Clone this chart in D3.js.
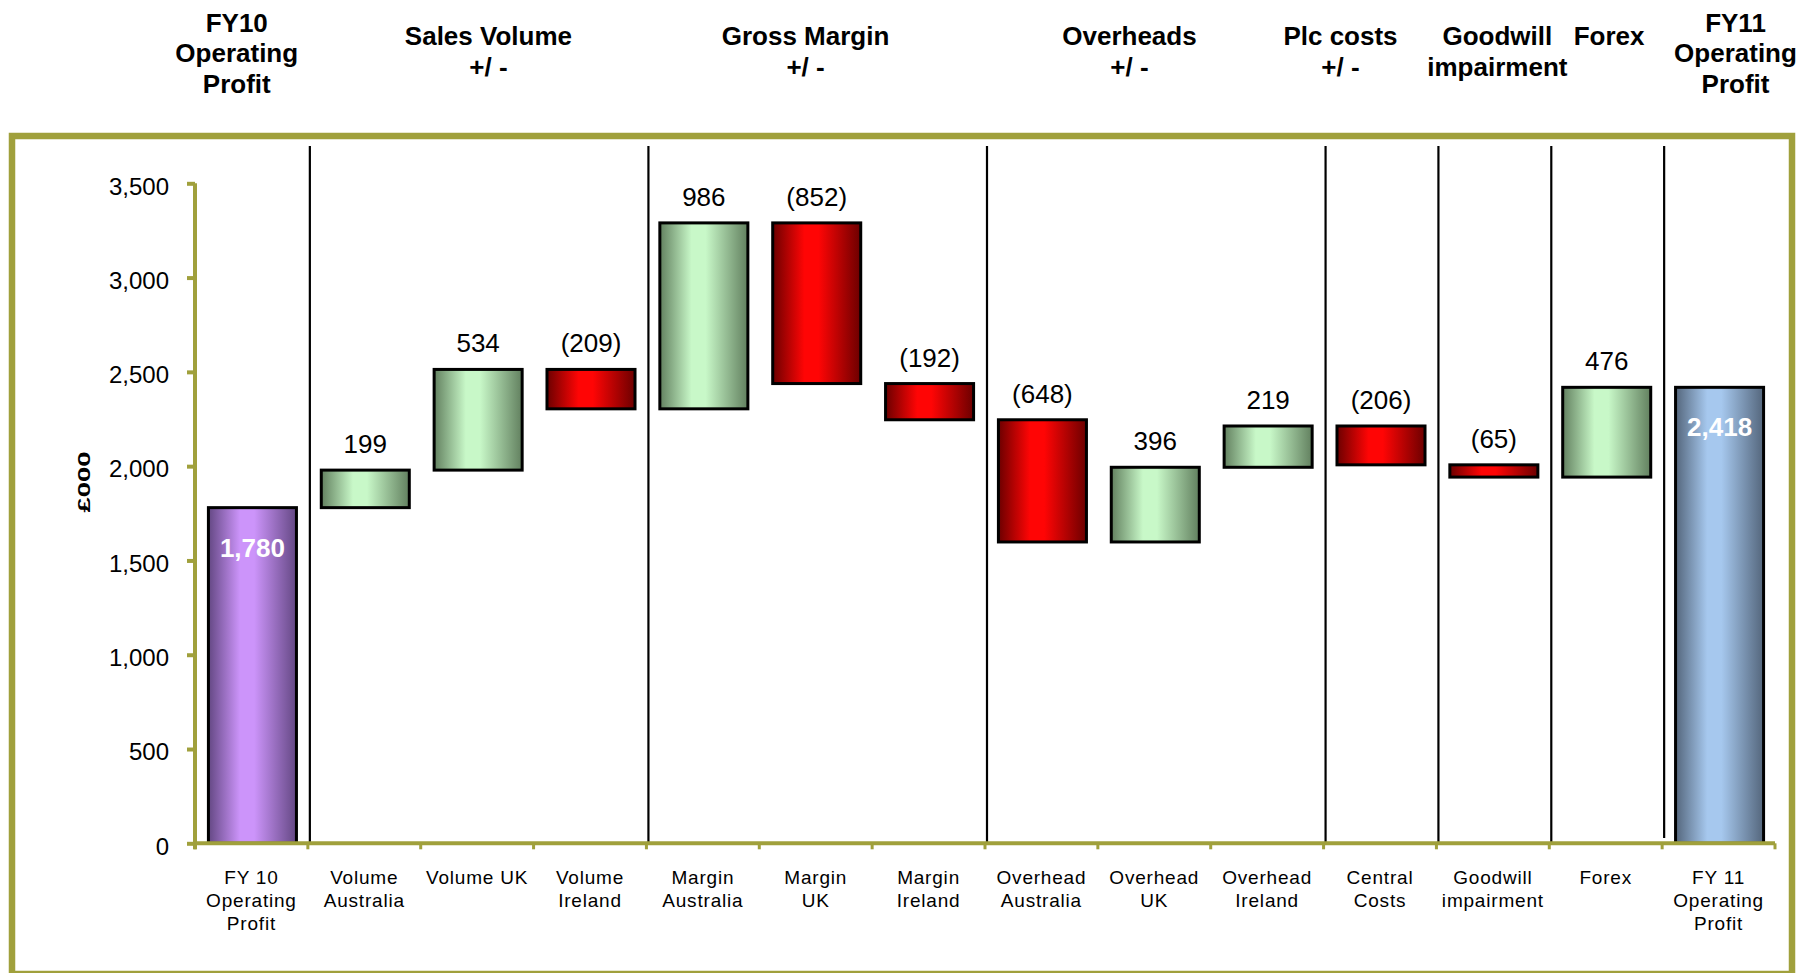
<!DOCTYPE html>
<html>
<head>
<meta charset="utf-8">
<script src="https://cdn.jsdelivr.net/npm/d3@7"></script>
<style>
  html, body { margin: 0; padding: 0; background: #fff; }
  svg { display: block; font-family: Arial, "Liberation Sans", sans-serif; }
</style>
</head>
<body>
<svg id="chart" width="1802" height="973"></svg>
<script>
// ---- data ----
const categories = [
  "FY 10\nOperating\nProfit", "Volume\nAustralia", "Volume UK", "Volume\nIreland",
  "Margin\nAustralia", "Margin\nUK", "Margin\nIreland",
  "Overhead\nAustralia", "Overhead\nUK", "Overhead\nIreland",
  "Central\nCosts", "Goodwill\nimpairment", "Forex", "FY 11\nOperating\nProfit"
];
const kinds = ["total", "delta", "delta", "delta", "delta", "delta", "delta",
               "delta", "delta", "delta", "delta", "delta", "delta", "total"];
const values = [1780, 199, 534, -209, 986, -852, -192, -648, 396, 219, -206, -65, 476, 2418];
const yTicks = [0, 500, 1000, 1500, 2000, 2500, 3000, 3500];
const yLabel = "£000";

// group headings above the plot and the slot (in category units) each is centred on
const headings = [
  "FY10\nOperating\nProfit", "Sales Volume\n+/ -", "Gross Margin\n+/ -", "Overheads\n+/ -",
  "Plc costs\n+/ -", "Goodwill\nimpairment", "Forex", "FY11\nOperating\nProfit"
];
const headingSlots = [0.37, 2.6, 5.41, 8.28, 10.15, 11.54, 12.53, 13.65];
// category boundaries that carry a vertical divider
const dividerAfter = [1, 4, 7, 10, 11, 12, 13];

// ---- layout ----
const svg = d3.select("#chart");
const olive = "#a0a03c";
const plotLeft = 195, plotRight = 1775, plotTop = 183.3, plotBottom = 843.3;

const x = d3.scaleBand().domain(d3.range(categories.length)).range([plotLeft, plotRight]).padding(0);
const slot = d3.scaleLinear().domain([0, categories.length]).range([plotLeft, plotRight]);
const y = d3.scaleLinear().domain([0, 3500]).range([plotBottom, plotTop]);
const barW = x.bandwidth() * 0.78;

// running waterfall extents
let run = 0;
const bars = values.map((v, i) => {
  let lo, hi, start, end;
  if (kinds[i] === "total") { start = 0; end = v; run = v; }
  else { start = run; end = run + v; run = end; }
  lo = Math.min(start, end); hi = Math.max(start, end);
  const fill = kinds[i] === "total" ? (i === 0 ? "purple" : "blue") : (v >= 0 ? "green" : "red");
  return { i, v, lo, hi, kind: kinds[i], fill };
});

// ---- gradients ----
const defs = svg.append("defs");
const shades = {
  green:  ["#62805f", "#c8f8c8"],
  red:    ["#6c0000", "#ff0505"],
  purple: ["#644884", "#cc94fa"],
  blue:   ["#54667c", "#a6c8ee"]
};
Object.entries(shades).forEach(([k, [dark, light]]) => {
  const g = defs.append("linearGradient").attr("id", "g-" + k)
    .attr("x1", "0%").attr("x2", "100%").attr("y1", "0%").attr("y2", "0%");
  [[0, dark], [0.36, light], [0.52, light], [1, dark]].forEach(([o, c]) =>
    g.append("stop").attr("offset", o).attr("stop-color", c));
});

// ---- frame ----
svg.append("rect").attr("x", 0).attr("y", 0).attr("width", 1802).attr("height", 973).attr("fill", "#fff");
svg.append("rect")
  .attr("x", 12).attr("y", 136).attr("width", 1780).attr("height", 838)
  .attr("fill", "none").attr("stroke", olive).attr("stroke-width", 6.5);

// ---- headings ----
headings.forEach((h, k) => {
  const lines = h.split("\n");
  const firstBase = lines.length === 3 ? 31.5 : (lines.length === 2 ? 45 : 45);
  const t = svg.append("text")
    .attr("x", slot(headingSlots[k])).attr("y", firstBase)
    .attr("text-anchor", "middle").attr("font-weight", "bold")
    .attr("font-size", 26).attr("fill", "#000");
  lines.forEach((ln, j) => t.append("tspan").attr("x", slot(headingSlots[k])).attr("dy", j ? 30.5 : 0).text(ln));
});

// ---- dividers ----
svg.append("g").selectAll("line").data(dividerAfter).join("line")
  .attr("x1", d => slot(d) + 2).attr("x2", d => slot(d) + 2)
  .attr("y1", 146).attr("y2", d => d === 13 ? 838 : plotBottom)
  .attr("stroke", "#000").attr("stroke-width", 2.2);

// ---- bars ----
const barG = svg.append("g");
barG.selectAll("rect").data(bars).join("rect")
  .attr("x", d => x(d.i) + (x.bandwidth() - barW) / 2 + 1)
  .attr("y", d => y(d.hi))
  .attr("width", barW)
  .attr("height", d => y(d.lo) - y(d.hi))
  .attr("fill", d => `url(#g-${d.fill})`)
  .attr("stroke", "#000").attr("stroke-width", 3);

// ---- value labels ----
const fmt = d3.format(",");
barG.selectAll("text.val").data(bars).join("text")
  .attr("class", "val")
  .attr("x", d => x(d.i) + x.bandwidth() / 2 + 1)
  .attr("y", d => d.kind === "total" ? y(d.hi) + 49 : y(d.hi) - 17)
  .attr("text-anchor", "middle")
  .attr("font-size", 26)
  .attr("font-weight", d => d.kind === "total" ? "bold" : "normal")
  .attr("fill", d => d.kind === "total" ? "#fff" : "#000")
  .text(d => d.v < 0 ? `(${fmt(-d.v)})` : fmt(d.v));

// ---- y axis ----
const yAxis = svg.append("g").attr("transform", `translate(${plotLeft},0)`)
  .call(d3.axisLeft(y).tickValues(yTicks).tickFormat(d3.format(",")).tickSize(8).tickPadding(18));
yAxis.select(".domain").attr("stroke", olive).attr("stroke-width", 4)
  .attr("d", `M0,${plotTop}V${plotBottom + 6}`);
yAxis.selectAll(".tick line").attr("stroke", olive).attr("stroke-width", 4);
yAxis.selectAll(".tick text").attr("font-size", 24).attr("fill", "#000")
  .attr("font-family", "Arial, 'Liberation Sans', sans-serif").attr("dy", "0.45em");

svg.append("text")
  .attr("transform", `translate(90,482) rotate(-90)`)
  .attr("text-anchor", "middle")
  .attr("font-weight", "bold").attr("font-size", 16)
  .attr("textLength", 61).attr("lengthAdjust", "spacingAndGlyphs")
  .text(yLabel);

// ---- x axis ----
const xAxisG = svg.append("g");
xAxisG.append("line")
  .attr("x1", plotLeft).attr("x2", plotRight).attr("y1", plotBottom).attr("y2", plotBottom)
  .attr("stroke", olive).attr("stroke-width", 4);
xAxisG.selectAll("line.tk").data(d3.range(categories.length + 1)).join("line")
  .attr("class", "tk")
  .attr("x1", d => slot(d)).attr("x2", d => slot(d))
  .attr("y1", plotBottom).attr("y2", plotBottom + 6)
  .attr("stroke", olive).attr("stroke-width", 3);

xAxisG.selectAll("text").data(categories).join("text")
  .attr("text-anchor", "middle").attr("font-size", 19).attr("letter-spacing", 0.8)
  .attr("fill", "#000")
  .each(function (c, i) {
    const t = d3.select(this);
    const cx = x(i) + x.bandwidth() / 2;
    c.split("\n").forEach((ln, j) =>
      t.append("tspan").attr("x", cx).attr("y", 884 + j * 23).text(ln));
  });
</script>
</body>
</html>
